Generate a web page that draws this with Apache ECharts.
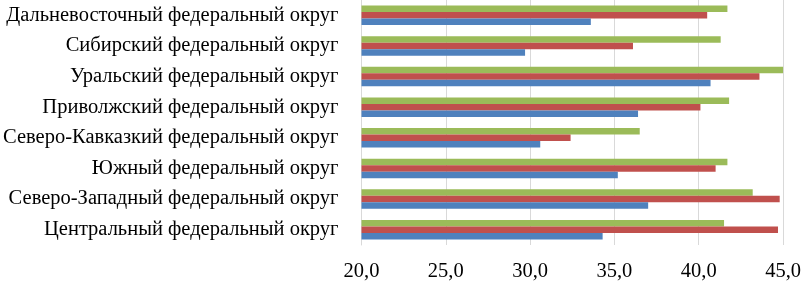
<!DOCTYPE html>
<html>
<head>
<meta charset="utf-8">
<script src="https://cdn.jsdelivr.net/npm/echarts@6/dist/echarts.min.js"></script>
<style>
  html, body { margin: 0; padding: 0; background: #fff; }
  #chart { width: 804px; height: 282px; }
</style>
</head>
<body>
<div id="chart"></div>
<script>
// Округа (снизу вверх, как в категориальной оси)
const districts = [
    'Центральный федеральный округ',
    'Северо-Западный федеральный округ',
    'Южный федеральный округ',
    'Северо-Кавказкий федеральный округ',
    'Приволжский федеральный округ',
    'Уральский федеральный округ',
    'Сибирский федеральный округ',
    'Дальневосточный федеральный округ'
];

// Значения трёх рядов (синий, красный, зелёный)
const blueValues = [34.3, 37.0, 35.2, 30.6, 36.4, 40.7, 29.7, 33.6];
const redValues = [44.7, 44.8, 41.0, 32.4, 40.1, 43.6, 36.1, 40.5];
const greenValues = [41.5, 43.2, 41.7, 36.5, 41.8, 45.0, 41.3, 41.7];

const fontFamily = '"Liberation Serif", "DejaVu Serif", serif';

const dom = document.getElementById('chart');
const myChart = echarts.init(dom);

myChart.setOption({
    animation: false,
    grid: {
        left: 360,
        right: 17,
        top: -6,
        bottom: 35
    },
    xAxis: {
        type: 'value',
        min: 20,
        max: 45,
        interval: 5,
        axisLine: { show: false },
        axisTick: { show: false },
        splitLine: {
            lineStyle: { color: '#d9d9d9', width: 1 }
        },
        axisLabel: {
            margin: 16,
            color: '#000',
            fontFamily: fontFamily,
            fontSize: 20.5,
            formatter: function (v) {
                return v.toFixed(1).replace('.', ',');
            }
        }
    },
    yAxis: {
        type: 'category',
        data: districts,
        axisLine: { show: true, lineStyle: { color: '#d9d9d9' } },
        axisTick: { show: false },
        axisLabel: {
            margin: 23,
            color: '#000',
            fontFamily: fontFamily,
            fontSize: 20.5
        }
    },
    series: [
        {
            type: 'bar',
            data: greenValues,
            itemStyle: { color: '#9bbb59' },
            barGap: '0%',
            barCategoryGap: '36%'
        },
        {
            type: 'bar',
            data: redValues,
            itemStyle: { color: '#c0504d' },
            barGap: '0%',
            barCategoryGap: '36%'
        },
        {
            type: 'bar',
            data: blueValues,
            itemStyle: { color: '#4f81bd' },
            barGap: '0%',
            barCategoryGap: '36%'
        }
    ]
});
</script>
</body>
</html>
